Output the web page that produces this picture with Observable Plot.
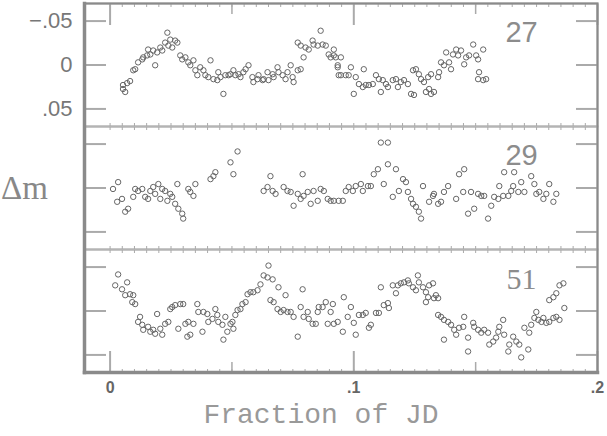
<!DOCTYPE html>
<html><head><meta charset="utf-8">
<script src="https://cdn.jsdelivr.net/npm/d3@7"></script>
<script src="https://cdn.jsdelivr.net/npm/@observablehq/plot@0.6"></script>
<style>body{margin:0;background:#fff}#chart{width:607px;height:436px}</style>
</head><body><div id="chart"></div>
<script>
const panels = ["27", "29", "51"];
const panelFonts = ["'Liberation Sans', Arial, sans-serif", "'Liberation Sans', Arial, sans-serif", "'Liberation Serif', 'Times New Roman', serif"];
const yTicks = [-0.05, 0, 0.05];
const yTickLabels = ["\u2212.05", "0", ".05"];
const xMajorTicks = [0, 0.1, 0.2];
const xMajorLabels = ["0", ".1", ".2"];
const xMinorTicks = [0.05, 0.15];
const xSmallTicks = d3.range(0, 0.2001, 0.005);
const xLabel = "Fraction of JD";
const yLabel = "\u0394m";

const star27 = [[0.0053,0.0228],[0.0070,0.0206],[0.0062,0.0307],[0.0082,0.0183],[0.0053,0.0273],[0.0095,0.0060],[0.0103,0.0048],[0.0115,-0.0030],[0.0132,-0.0064],[0.0136,-0.0087],[0.0152,-0.0109],[0.0156,-0.0176],[0.0165,-0.0120],[0.0177,-0.0165],[0.0185,0.0003],[0.0193,-0.0143],[0.0206,-0.0199],[0.0214,-0.0165],[0.0226,-0.0255],[0.0235,-0.0368],[0.0239,-0.0221],[0.0247,-0.0289],[0.0255,-0.0199],[0.0267,-0.0278],[0.0276,-0.0255],[0.0288,-0.0109],[0.0296,-0.0064],[0.0309,-0.0087],[0.0321,-0.0030],[0.0329,0.0003],[0.0342,-0.0053],[0.0350,0.0060],[0.0358,0.0116],[0.0370,0.0026],[0.0383,0.0060],[0.0391,0.0116],[0.0403,0.0138],[0.0412,-0.0053],[0.0424,0.0161],[0.0440,0.0172],[0.0444,0.0082],[0.0453,0.0138],[0.0465,0.0329],[0.0473,0.0116],[0.0486,0.0116],[0.0494,0.0105],[0.0506,0.0060],[0.0514,0.0116],[0.0527,0.0105],[0.0535,0.0138],[0.0547,0.0082],[0.0556,0.0048],[0.0568,0.0003],[0.0584,0.0138],[0.0588,0.0194],[0.0605,0.0161],[0.0609,0.0116],[0.0626,0.0172],[0.0630,0.0161],[0.0646,0.0082],[0.0650,0.0172],[0.0667,0.0105],[0.0671,0.0138],[0.0687,0.0026],[0.0691,0.0082],[0.0708,0.0116],[0.0720,0.0161],[0.0728,0.0082],[0.0741,0.0003],[0.0749,0.0138],[0.0753,0.0194],[0.0770,0.0060],[0.0782,0.0048],[0.0770,-0.0255],[0.0782,-0.0221],[0.0794,-0.0087],[0.0802,-0.0199],[0.0815,-0.0176],[0.0831,-0.0278],[0.0835,-0.0233],[0.0852,-0.0221],[0.0864,-0.0390],[0.0872,-0.0233],[0.0885,-0.0221],[0.0897,-0.0120],[0.0905,-0.0087],[0.0918,-0.0109],[0.0934,0.0003],[0.0938,0.0116],[0.0918,-0.0176],[0.0926,-0.0087],[0.0947,-0.0087],[0.0934,0.0026],[0.0947,0.0116],[0.0967,0.0116],[0.0988,0.0026],[0.0979,0.0116],[0.1008,0.0138],[0.1041,0.0048],[0.1021,0.0217],[0.1037,0.0251],[0.1049,0.0228],[0.1000,0.0329],[0.1062,0.0228],[0.1078,0.0217],[0.1091,0.0116],[0.1103,0.0161],[0.1119,0.0172],[0.1111,0.0307],[0.1132,0.0217],[0.1140,0.0251],[0.1160,0.0172],[0.1173,0.0161],[0.1181,0.0251],[0.1193,0.0194],[0.1206,0.0172],[0.1222,0.0217],[0.1235,0.0329],[0.1247,0.0341],[0.1243,0.0060],[0.1255,0.0048],[0.1267,0.0105],[0.1276,0.0161],[0.1288,0.0194],[0.1296,0.0307],[0.1309,0.0273],[0.1317,0.0329],[0.1305,0.0138],[0.1317,0.0105],[0.1329,0.0307],[0.1346,0.0138],[0.1350,0.0082],[0.1358,-0.0030],[0.1370,0.0003],[0.1379,-0.0143],[0.1391,-0.0030],[0.1399,0.0048],[0.1407,-0.0120],[0.1420,-0.0176],[0.1428,-0.0109],[0.1440,-0.0165],[0.1453,-0.0008],[0.1461,-0.0087],[0.1473,-0.0109],[0.1490,-0.0233],[0.1502,-0.0109],[0.1510,-0.0064],[0.1531,-0.0176],[0.1514,0.0082],[0.1510,0.0161],[0.1531,0.0172],[0.1543,0.0161]];

const star29 = [[0.0012,0.0011],[0.0033,-0.0067],[0.0029,0.0157],[0.0049,0.0124],[0.0062,0.0270],[0.0074,0.0236],[0.0095,0.0101],[0.0103,0.0011],[0.0115,0.0034],[0.0132,0.0011],[0.0144,0.0101],[0.0156,0.0124],[0.0165,0.0034],[0.0177,-0.0011],[0.0185,0.0067],[0.0198,-0.0045],[0.0206,0.0124],[0.0214,0.0011],[0.0226,0.0034],[0.0235,0.0146],[0.0247,0.0067],[0.0255,0.0101],[0.0267,0.0180],[0.0276,-0.0045],[0.0280,0.0236],[0.0296,0.0292],[0.0300,0.0348],[0.0321,0.0011],[0.0329,0.0045],[0.0342,0.0090],[0.0350,-0.0045],[0.0412,-0.0101],[0.0424,-0.0135],[0.0432,-0.0180],[0.0494,-0.0292],[0.0506,-0.0157],[0.0523,-0.0416],[0.0630,0.0034],[0.0646,-0.0011],[0.0658,-0.0135],[0.0667,0.0034],[0.0679,0.0067],[0.0712,-0.0011],[0.0728,0.0034],[0.0741,0.0045],[0.0753,0.0202],[0.0770,0.0067],[0.0782,0.0124],[0.0790,-0.0157],[0.0794,0.0090],[0.0811,0.0045],[0.0823,0.0180],[0.0835,0.0034],[0.0852,0.0146],[0.0864,0.0011],[0.0877,0.0034],[0.0893,0.0124],[0.0905,0.0146],[0.0918,0.0146],[0.0938,0.0146],[0.0955,0.0146],[0.0967,0.0034],[0.0979,-0.0011],[0.0996,0.0034],[0.1008,-0.0022],[0.1029,-0.0045],[0.1037,0.0034],[0.1058,-0.0022],[0.1070,-0.0022],[0.1082,-0.0157],[0.1099,-0.0214],[0.1111,-0.0517],[0.1140,-0.0517],[0.1123,-0.0045],[0.1140,-0.0270],[0.1160,0.0101],[0.1173,-0.0214],[0.1185,0.0034],[0.1202,-0.0101],[0.1214,-0.0067],[0.1222,0.0045],[0.1235,0.0124],[0.1243,0.0180],[0.1255,0.0214],[0.1267,0.0270],[0.1276,0.0348],[0.1284,-0.0022],[0.1309,0.0157],[0.1325,0.0090],[0.1329,0.0067],[0.1346,0.0180],[0.1358,0.0157],[0.1370,0.0045],[0.1387,-0.0022],[0.1420,0.0124],[0.1432,-0.0157],[0.1453,-0.0214],[0.1449,0.0045],[0.1469,0.0292],[0.1481,0.0045],[0.1494,0.0236],[0.1510,0.0067],[0.1523,0.0090],[0.1535,0.0090],[0.1551,0.0348],[0.1564,0.0202],[0.1576,0.0101],[0.1593,0.0124],[0.1597,-0.0022],[0.1613,0.0090],[0.1617,-0.0180],[0.1634,0.0090],[0.1646,0.0034],[0.1658,-0.0180],[0.1654,-0.0022],[0.1675,0.0045],[0.1687,-0.0067],[0.1700,0.0045],[0.1728,-0.0135],[0.1741,-0.0045],[0.1749,0.0067],[0.1761,0.0045],[0.1778,0.0124],[0.1790,0.0067],[0.1802,-0.0045],[0.1819,0.0157],[0.1831,0.0067]];

const star51 = [[0.0033,-0.0416],[0.0021,-0.0292],[0.0049,-0.0247],[0.0070,-0.0326],[0.0062,-0.0180],[0.0082,-0.0191],[0.0091,-0.0101],[0.0095,-0.0180],[0.0103,-0.0079],[0.0115,0.0124],[0.0123,0.0067],[0.0132,0.0157],[0.0136,0.0214],[0.0156,0.0180],[0.0165,0.0236],[0.0177,0.0214],[0.0185,0.0259],[0.0193,0.0034],[0.0206,0.0202],[0.0214,0.0270],[0.0226,0.0146],[0.0239,0.0124],[0.0247,-0.0022],[0.0255,-0.0045],[0.0267,-0.0067],[0.0280,0.0202],[0.0288,-0.0079],[0.0300,-0.0079],[0.0309,0.0146],[0.0317,0.0292],[0.0321,0.0124],[0.0329,0.0270],[0.0342,0.0146],[0.0358,-0.0079],[0.0362,0.0011],[0.0379,0.0236],[0.0383,0.0011],[0.0399,0.0034],[0.0403,0.0124],[0.0420,0.0090],[0.0432,-0.0022],[0.0440,0.0045],[0.0444,0.0124],[0.0461,0.0157],[0.0465,0.0326],[0.0473,0.0067],[0.0481,0.0236],[0.0494,0.0146],[0.0502,0.0124],[0.0506,0.0202],[0.0514,0.0045],[0.0523,-0.0011],[0.0535,-0.0022],[0.0543,-0.0079],[0.0556,-0.0101],[0.0564,-0.0191],[0.0576,-0.0214],[0.0588,-0.0214],[0.0605,-0.0236],[0.0617,-0.0303],[0.0630,-0.0405],[0.0646,-0.0382],[0.0650,-0.0517],[0.0667,-0.0360],[0.0691,-0.0270],[0.0720,-0.0180],[0.0658,-0.0124],[0.0671,-0.0101],[0.0687,-0.0022],[0.0700,0.0011],[0.0712,-0.0011],[0.0728,0.0011],[0.0741,0.0011],[0.0753,0.0067],[0.0770,0.0292],[0.0782,-0.0045],[0.0790,-0.0247],[0.0794,0.0067],[0.0811,0.0011],[0.0815,0.0090],[0.0831,0.0146],[0.0844,0.0146],[0.0852,0.0011],[0.0856,-0.0045],[0.0872,-0.0045],[0.0885,-0.0101],[0.0893,0.0146],[0.0905,0.0011],[0.0914,-0.0079],[0.0918,0.0146],[0.0934,0.0124],[0.0955,0.0236],[0.0959,-0.0157],[0.0975,0.0067],[0.0988,-0.0045],[0.1000,0.0135],[0.1008,0.0270],[0.1021,0.0045],[0.1037,0.0045],[0.1049,0.0022],[0.1062,0.0191],[0.1070,0.0157],[0.1091,0.0022],[0.1103,0.0022],[0.1111,-0.0270],[0.1123,-0.0067],[0.1140,-0.0090],[0.1144,-0.0034],[0.1160,-0.0292],[0.1173,-0.0202],[0.1181,-0.0292],[0.1193,-0.0315],[0.1206,-0.0326],[0.1222,-0.0348],[0.1226,-0.0315],[0.1243,-0.0270],[0.1255,-0.0236],[0.1263,-0.0405],[0.1267,-0.0326],[0.1284,-0.0270],[0.1296,-0.0214],[0.1309,-0.0292],[0.1325,-0.0315],[0.1337,-0.0180],[0.1346,-0.0146],[0.1329,-0.0146],[0.1305,-0.0157],[0.1296,-0.0101],[0.1346,0.0045],[0.1358,0.0067],[0.1370,0.0101],[0.1387,0.0124],[0.1399,0.0157],[0.1412,0.0214],[0.1370,0.0326],[0.1420,0.0270],[0.1432,0.0191],[0.1449,0.0180],[0.1453,0.0067],[0.1469,0.0303],[0.1469,0.0461],[0.1490,0.0135],[0.1494,0.0180],[0.1510,0.0214],[0.1523,0.0247],[0.1535,0.0214],[0.1551,0.0247],[0.1556,0.0382],[0.1572,0.0348],[0.1584,0.0303],[0.1593,0.0236],[0.1597,0.0180],[0.1613,0.0101],[0.1617,0.0270],[0.1634,0.0461],[0.1638,0.0382],[0.1654,0.0292],[0.1667,0.0348],[0.1679,0.0382],[0.1687,0.0528],[0.1700,0.0191],[0.1716,0.0438],[0.1720,0.0247],[0.1728,0.0157],[0.1741,0.0079],[0.1749,0.0011],[0.1757,0.0101],[0.1770,0.0124],[0.1778,0.0079],[0.1790,0.0135],[0.1802,0.0124],[0.1819,0.0079],[0.1831,0.0067],[0.1844,0.0101],[0.1802,-0.0124],[0.1819,-0.0157],[0.1831,-0.0202],[0.1844,-0.0292],[0.1860,-0.0315],[0.1864,-0.0034]];

const stars = [star27, star29, star51];
const points = stars.flatMap((s, k) => s.map(([x, y]) => ({panel: panels[k], x, y})));
const xLabelMap = new Map(xMajorTicks.map((t, i) => [t, xMajorLabels[i]]));
const sans = "'Liberation Sans', Arial, sans-serif";
const frameColor = "#8a8a8a";

const chart = Plot.plot({
  width: 607, height: 436,
  marginLeft: 84, marginRight: 10, marginTop: 2, marginBottom: 63,
  style: {fontFamily: sans, background: "#fff", color: "#777"},
  x: {domain: [-0.0105, 0.2]},
  y: {domain: [-0.07, 0.07], reverse: true},
  fy: {domain: panels, padding: 0, axis: null},
  marks: [
    Plot.frame({stroke: "#b4b4b4", strokeWidth: 2}),
    Plot.axisX({anchor: "top", ticks: xSmallTicks, tickSize: -3, fill: "none", stroke: "#aaa", label: null, facetAnchor: null}),
    Plot.axisX({anchor: "bottom", ticks: xSmallTicks, tickSize: -3, fill: "none", stroke: "#aaa", label: null, facetAnchor: null}),
    Plot.axisY({anchor: "left", ticks: yTicks, tickSize: -22, fill: "none", stroke: "#aaa", strokeWidth: 2, label: null}),
    Plot.axisY({anchor: "right", ticks: yTicks, tickSize: -22, fill: "none", stroke: "#aaa", strokeWidth: 2, label: null}),
    Plot.axisX({anchor: "top", ticks: xMajorTicks, tickSize: -21, fill: "none", stroke: "#aaa", strokeWidth: 2, label: null}),
    Plot.axisX({anchor: "bottom", ticks: xMajorTicks, tickSize: -21, fill: "none", stroke: "#aaa", strokeWidth: 2, label: null}),
    Plot.axisX({anchor: "top", ticks: xMinorTicks, tickSize: -10, fill: "none", stroke: "#aaa", strokeWidth: 1.5, label: null}),
    Plot.axisX({anchor: "bottom", ticks: xMinorTicks, tickSize: -10, fill: "none", stroke: "#aaa", strokeWidth: 1.5, label: null}),
    Plot.axisX({anchor: "bottom", ticks: xMajorTicks, tickSize: 0, stroke: "none", tickPadding: 9, tickFormat: d => xLabelMap.get(d), fontSize: 16, fontWeight: "bold", fill: "#666", label: null}),
    Plot.frame({facet: "super", stroke: frameColor, strokeWidth: 2}),
    Plot.frame({facet: "super", anchor: "left", stroke: frameColor, strokeWidth: 3.5}),
    Plot.frame({facet: "super", anchor: "bottom", stroke: frameColor, strokeWidth: 3.5}),
    Plot.dot(points, {x: "x", y: "y", fy: "panel", r: 2.7, stroke: "#666", strokeWidth: 1, fill: "none"}),
    Plot.text(yTicks, {y: d => d, fy: () => panels[0], frameAnchor: "left", dx: -12, textAnchor: "end", text: (d, i) => yTickLabels[i], fontSize: 22, fill: "#777"}),
    Plot.text(panels.slice(0, 2), {fy: d => d, text: d => d, frameAnchor: "top-right", dx: -76, dy: 18, textAnchor: "middle", fontSize: 29, fill: "#8c8c8c", fontFamily: panelFonts[0]}),
    Plot.text(panels.slice(2), {fy: d => d, text: d => d, frameAnchor: "top-right", dx: -76, dy: 18, textAnchor: "middle", fontSize: 30, fill: "#8c8c8c", fontFamily: panelFonts[2]}),
    Plot.text([yLabel], {fy: () => panels[1], frameAnchor: "left", dx: -60, textAnchor: "middle", fontSize: 33, fill: "#888", fontFamily: "'Liberation Serif', 'Times New Roman', serif"}),
    Plot.text([xLabel], {fy: () => panels[2], frameAnchor: "bottom", dx: -20, dy: 50, textAnchor: "middle", fontSize: 28, fill: "#999", fontFamily: "'Liberation Mono', 'Courier New', monospace"})
  ]
});
document.getElementById("chart").appendChild(chart);
</script>
</body></html>
